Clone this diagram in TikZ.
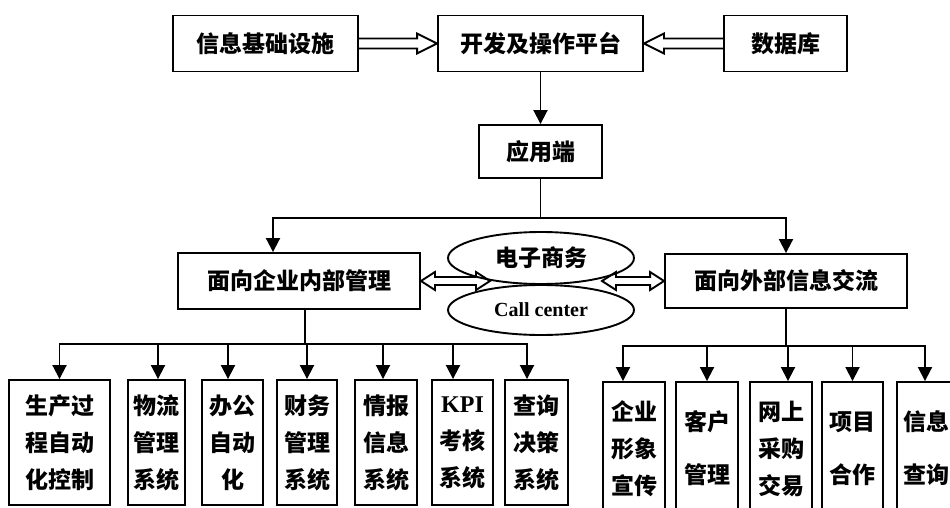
\documentclass[tikz,border=0pt]{standalone}
\usepackage{fontspec}
\setmainfont{Liberation Serif}
\newfontfamily\cjk{Noto Sans CJK SC}
\usetikzlibrary{arrows.meta,calc,shapes.geometric}
\tikzset{
  box/.style={draw, line width=1.9pt, inner sep=0pt, align=center,
    font=\cjk\bfseries\fontsize{23}{26}\selectfont},
  tri/.style={box, font=\cjk\bfseries\fontsize{23}{37}\selectfont},
  duo/.style={box, font=\cjk\bfseries\fontsize{23}{53}\selectfont},
  oval/.style={draw, ellipse, line width=1.9pt, inner sep=0pt},
  arr/.style={line width=1.9pt, -{Triangle[width=14pt,length=14pt]}},
  hollow/.style={line width=1.9pt, line join=miter},
}
\newcommand\harrow[3]{%
  \draw[hollow] ($(#1)+(0,-5)$) -- ($(#2)+(#3,-5)$) -- ++(0,-5) -- (#2)
    -- ($(#2)+(#3,10)$) -- ++(0,-5) -- ($(#1)+(0,5)$);}
\newcommand\dblarrow[2]{%
  \draw[hollow] (#1) -- ++(14,-9) -- ++(0,5) -- ($(#2)+(-14,-4)$) -- ++(0,-5)
    -- (#2) -- ++(-14,9) -- ++(0,-5) -- ($(#1)+(14,4)$) -- ++(0,5) -- cycle;}
\begin{document}
\begin{tikzpicture}[x=1pt,y=-1pt]
\clip (0,0) rectangle (950,508);
% top row
\node[box, minimum width=185pt, minimum height=56pt] (A) at (265.5,43.5) {信息基础设施};
\node[box, minimum width=205pt, minimum height=56pt] (B) at (540.5,43.5) {开发及操作平台};
\node[box, minimum width=123pt, minimum height=56pt] (C) at (785.5,43.5) {数据库};
\node[box, minimum width=123pt, minimum height=53pt] (D) at (540.5,151.5) {应用端};
\harrow{A.east}{B.west}{-20}
\harrow{C.west}{B.east}{20}
\draw[arr] (B.south) -- (D.north);
% middle row
\node[box, minimum width=242pt, minimum height=56pt] (E) at (299,281) {面向企业内部管理};
\node[box, minimum width=242pt, minimum height=54pt] (F) at (786,281) {面向外部信息交流};
\node[oval, minimum width=186pt, minimum height=52pt] (EC) at (541,258)
  {\cjk\bfseries\fontsize{23}{26}\selectfont 电子商务};
\node[oval, minimum width=186pt, minimum height=50pt] (CC) at (541,310)
  {\bfseries\fontsize{20}{22}\selectfont Call center};
\coordinate (gl) at (490,281);
\coordinate (gr) at (602,281);
\dblarrow{E.east}{gl}
\dblarrow{gr}{F.west}
\draw[arr] (D.south) -- ++(0,39) -| ([xshift=-26pt]E.north);
\draw[arr] (D.south) -- ++(0,39) -| (F.north);
% bottom left group
\node[tri, minimum width=101pt, minimum height=125pt] (b1) at (59.5,442.5) {生产过\\程自动\\化控制};
\node[tri, minimum width=57pt, minimum height=125pt] (b2) at (156.5,442.5) {物流\\管理\\系统};
\node[tri, minimum width=61pt, minimum height=125pt] (b3) at (232.5,442.5) {办公\\自动\\化};
\node[tri, minimum width=60pt, minimum height=125pt] (b4) at (307,442.5) {财务\\管理\\系统};
\node[tri, minimum width=62pt, minimum height=125pt] (b5) at (386,442.5) {情报\\信息\\系统};
\node[tri, minimum width=61pt, minimum height=125pt] (b6) at (462.5,442.5)
  {{\rmfamily\bfseries\fontsize{24}{37}\selectfont KPI}\\考核\\系统};
\node[tri, minimum width=63pt, minimum height=125pt] (b7) at (536.5,442.5) {查询\\决策\\系统};
\draw[arr] ([xshift=6pt]E.south) -- ++(0,34) -| (b1.north);
\draw[arr] ([xshift=6pt]E.south) -- ++(0,34) -| ([xshift=1.5pt]b2.north);
\draw[arr] ([xshift=6pt]E.south) -- ++(0,34) -| ([xshift=-4.5pt]b3.north);
\draw[arr] ([xshift=6pt]E.south) -- ++(0,34) -| (b4.north);
\draw[arr] ([xshift=6pt]E.south) -- ++(0,34) -| ([xshift=-3pt]b5.north);
\draw[arr] ([xshift=6pt]E.south) -- ++(0,34) -| ([xshift=-9.5pt]b6.north);
\draw[arr] ([xshift=6pt]E.south) -- ++(0,34) -| ([xshift=-9.5pt]b7.north);
% bottom right group
\node[tri, minimum width=62pt, minimum height=133pt] (b8) at (634,448.5) {企业\\形象\\宣传};
\node[duo, minimum width=62pt, minimum height=133pt] (b9) at (707,448.5) {客户\\管理};
\node[tri, minimum width=62pt, minimum height=133pt] (b10) at (781,448.5) {网上\\采购\\交易};
\node[duo, minimum width=61pt, minimum height=133pt] (b11) at (852.5,448.5) {项目\\合作};
\node[duo, minimum width=58pt, minimum height=133pt] (b12) at (926,448.5) {信息\\查询};
\draw[arr] (F.south) -- ++(0,37) -| ([xshift=-11pt]b8.north);
\draw[arr] (F.south) -- ++(0,37) -| (b9.north);
\draw[arr] (F.south) -- ++(0,37) -| ([xshift=7pt]b10.north);
\draw[arr] (F.south) -- ++(0,37) -| (b11.north);
\draw[arr] (F.south) -- ++(0,37) -| ([xshift=-1pt]b12.north);
\end{tikzpicture}
\end{document}
